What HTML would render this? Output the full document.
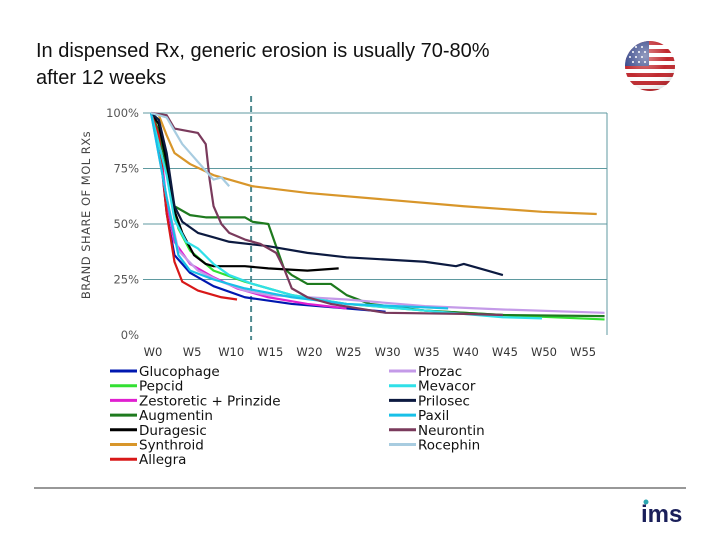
<!DOCTYPE html>
<html><head><meta charset="utf-8"><style>
body{margin:0;background:#fff;}
#c{position:relative;width:720px;height:540px;overflow:hidden;background:#fff;}
.t{position:absolute;left:36px;font-family:"Liberation Sans",sans-serif;font-size:20px;color:#111;}
svg text{font-family:"DejaVu Sans",sans-serif;}
</style></head><body>
<div id="c">
<div class="t" style="top:40px">In dispensed Rx, generic erosion is usually 70-80%</div>
<div class="t" style="top:67px">after 12 weeks</div>
<svg id="s" width="720" height="540" style="position:absolute;left:0;top:0">
<defs><radialGradient id="g" cx="0.4" cy="0.3" r="0.75"><stop offset="0" stop-color="#fff" stop-opacity="0.45"/><stop offset="0.6" stop-color="#fff" stop-opacity="0"/><stop offset="1" stop-color="#000" stop-opacity="0.15"/></radialGradient>
<clipPath id="cc"><circle cx="650" cy="66" r="25"/></clipPath></defs>
<g clip-path="url(#cc)">
<rect x="625" y="41" width="50" height="50" fill="#fff"/>
<rect x="625" y="41" width="50" height="4" fill="#c0292f"/><rect x="625" y="49" width="50" height="4" fill="#c0292f"/><rect x="625" y="57" width="50" height="4" fill="#c0292f"/><rect x="625" y="65" width="50" height="4" fill="#c0292f"/><rect x="625" y="73" width="50" height="4" fill="#c0292f"/><rect x="625" y="81" width="50" height="4" fill="#c0292f"/><rect x="625" y="89" width="50" height="4" fill="#c0292f"/>
<rect x="625" y="41" width="24" height="25" fill="#3a4a8c"/>
<g fill="#fff"><circle cx="630" cy="47" r="1"/><circle cx="636" cy="47" r="1"/><circle cx="642" cy="47" r="1"/><circle cx="633" cy="52" r="1"/><circle cx="639" cy="52" r="1"/><circle cx="645" cy="52" r="1"/><circle cx="630" cy="57" r="1"/><circle cx="636" cy="57" r="1"/><circle cx="642" cy="57" r="1"/><circle cx="633" cy="62" r="1"/><circle cx="639" cy="62" r="1"/><circle cx="645" cy="62" r="1"/></g>
<circle cx="650" cy="66" r="25" fill="url(#g)"/>
</g>
<line x1="34" y1="488" x2="686" y2="488" stroke="#777" stroke-width="1.5"/>
<circle cx="646" cy="502" r="2.5" fill="#2aa6b0"/>
<text x="641" y="522" font-size="24" font-weight="bold" fill="#1a1f5a" style="font-family:'Liberation Sans',sans-serif">ims</text>
<g id="plot"></g>
</svg>
</div>
<script>
const weeksTicks=[0,5,10,15,20,25,30,35,40,45,50,55];
const yTicks=[0,25,50,75,100];
const names=["Glucophage","Pepcid","Zestoretic + Prinzide","Augmentin","Duragesic","Synthroid","Allegra","Prozac","Mevacor","Prilosec","Paxil","Neurontin","Rocephin"];
const colors=["#0018b0","#33e033","#e020d0","#1e7a1e","#000000","#d8962a","#d81818","#c49ae8","#30e0e8","#0c1a40","#18c0e8","#7a3a5c","#a8cce0"];
const glucophage=[[0,100],[1,88],[2,55],[3,36],[5,28],[8,22],[12,17],[18,14],[25,12],[30,10.5]];
const pepcid=[[0,100],[1.5,85],[2.5,65],[3.5,48],[5,38],[8,29],[12,24],[18,18],[25,14],[35,11],[45,9],[58,7]];
const zestoretic=[[0,100],[1,90],[2,60],[3,42],[5,32],[8,26],[11,21],[15,17],[20,14],[25,12]];
const augmentin=[[0,100],[1,92],[2,75],[3,58],[5,54],[7,53],[10,53],[12,53],[13,51],[15,50],[16,40],[17,30],[18,27],[20,23],[23,23],[25,18],[28,14],[35,11],[45,9],[58,8.5]];
const duragesic=[[0,100],[1,95],[2,78],[3,56],[4,46],[5.5,36],[7,32],[8,31],[10,31],[12,31],[15,30],[20,29],[24,30]];
const synthroid=[[0,100],[1,99],[2,90],[3,82],[5,77],[8,72],[10,70],[13,67],[20,64],[30,61],[40,58],[50,55.5],[57,54.5]];
const allegra=[[0,100],[1,90],[2,55],[3,33],[4,24],[6,20],[9,17],[11,16]];
const prozac=[[0,100],[2,62],[3.5,38],[6,29],[9,24],[12,20],[15,18],[20,17],[25,16],[35,13],[45,11.5],[58,10]];
const mevacor=[[0,100],[2,72],[3,52],[4.5,42],[6,39],[8,32],[10,27],[13,23],[18,18],[25,14],[35,11],[45,8],[50,7.5]];
const prilosec=[[0,100],[1,97],[2,82],[3,58],[4,51],[6,46],[8,44],[10,42],[15,40],[20,37],[25,35],[30,34],[35,33],[39,31],[40,32],[43,29],[45,27]];
const paxil=[[0,100],[2,62],[3.5,36],[5,29],[8,25],[12,21],[18,17],[25,14],[38,12]];
const neurontin=[[0,100],[2,99],[3,93],[6,91],[7,86],[7.5,70],[8,58],[9,50],[10,46],[12,43],[14,41],[16,37],[17,30],[18,21],[20,17],[23,14],[30,10],[40,9.5],[45,9]];
const rocephin=[[0,100],[2,98],[3,92],[4,86],[5,82],[6,78],[7,74],[8,70],[9,71],[10,67]];
const series=[glucophage,pepcid,zestoretic,augmentin,duragesic,synthroid,allegra,prozac,mevacor,prilosec,paxil,neurontin,rocephin];
const cutoffWeek=12.8;

const NS="http://www.w3.org/2000/svg";
const X=w=>151+w*7.82;
const Y=v=>335-v*2.22;
const g=document.getElementById('plot');
function mk(t,a){const e=document.createElementNS(NS,t);for(const k in a)e.setAttribute(k,a[k]);g.appendChild(e);return e;}
yTicks.forEach(v=>{
  if(v>0){const l=mk('line',{x1:143,x2:607,y1:Y(v),y2:Y(v),stroke:'#5f9aa0','stroke-width':1});
  
  }
  const t=mk('text',{x:139,y:Y(v)+4,'text-anchor':'end','font-size':11.5,fill:'#555'});t.textContent=v+'%';
  
  
});
const rb=mk('line',{x1:607,x2:607,y1:Y(100),y2:Y(0),stroke:'#5f9aa0','stroke-width':1});


weeksTicks.forEach(w=>{const t=mk('text',{x:X(w)+2,y:356,'text-anchor':'middle','font-size':11.5,fill:'#333'});t.textContent='W'+w;
  
  });
const yt=mk('text',{x:0,y:0,transform:'translate(90,215) rotate(-90)','text-anchor':'middle','font-size':11.5,fill:'#444','letter-spacing':'0.5'});
yt.textContent='BRAND SHARE OF MOL RXs';


const dl=mk('line',{x1:X(cutoffWeek),x2:X(cutoffWeek),y1:96,y2:340,stroke:'#4f8a90','stroke-width':2,'stroke-dasharray':'6,4'});


series.forEach((s,i)=>{
  const p=mk('polyline',{points:s.map(d=>X(d[0])+','+Y(d[1])).join(' '),fill:'none',stroke:colors[i],'stroke-width':2.2,'stroke-linejoin':'round'});
  
  
});
names.forEach((n,i)=>{
  const col=i<7?0:1,row=i<7?i:i-7;
  const lx=col?389:110,ly=371+row*14.7;
  const l=mk('line',{x1:lx,x2:lx+27,y1:ly,y2:ly,stroke:colors[i],'stroke-width':3});
  
  
  const t=mk('text',{x:lx+29,y:ly+5,'font-size':13.5,fill:'#111'});t.textContent=n;
  
  
});
</script>
</body></html>
